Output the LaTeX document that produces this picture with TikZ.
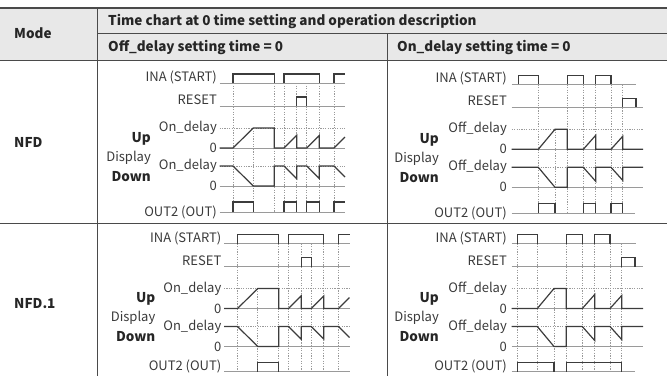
\documentclass[tikz,border=0pt]{standalone}
\usepackage{fontspec}
\setmainfont{Noto Sans CJK KR}
\usepackage{xcolor}
\definecolor{headgray}{HTML}{E8E8E8}
\definecolor{rulegray}{HTML}{4A4A4A}
\definecolor{txtgray}{HTML}{3A3A3A}
\definecolor{basegray}{HTML}{9A9A9A}
\definecolor{siggray}{HTML}{3C3C3C}

\begin{document}
\begin{tikzpicture}[
  x=1pt, y=-1pt,
  lbl/.style={font=\fontsize{13}{15}\selectfont, text=txtgray, inner sep=0pt, anchor=base east},
  lblb/.style={lbl, font=\fontsize{13.5}{15}\selectfont\bfseries, text=black!85},
  headtxt/.style={font=\fontsize{13.5}{16}\selectfont\bfseries, text=black!85, inner sep=0pt, anchor=base west},
  rule/.style={draw=rulegray, line width=0.9pt},
  base/.style={draw=basegray, line width=0.8pt},
  lvl/.style={draw=basegray, line width=0.8pt, dash pattern=on 1.2pt off 1.2pt},
  guide/.style={draw=basegray, line width=0.7pt, dash pattern=on 1.2pt off 1.4pt},
  sig/.style={draw=siggray, line width=1.2pt}
]
  \useasboundingbox (0,0) rectangle (667,376);

  % table
  \fill[headgray] (0,8) rectangle (667,60);
  \draw[rule, line width=2pt] (0,8) -- (667,8);
  \draw[rule] (97,8) -- (97,376);
  \draw[rule] (97,33) -- (667,33);
  \draw[rule] (387,33) -- (387,376);
  \draw[rule] (0,60) -- (667,60);
  \draw[rule] (0,223) -- (667,223);

  \node[headtxt] (mode) at (14,38) {Mode};
  \node[headtxt] (chart) at (108,25.5) {Time chart at 0 time setting and operation description};
  \node[headtxt] (offhead) at (108,51.5) {Off\_delay setting time = 0};
  \node[headtxt] (onhead) at (397,51.5) {On\_delay setting time = 0};
  \node[headtxt] (nfd) at (14,147) {NFD};
  \node[headtxt] (nfdone) at (14,308) {NFD.1};

  % NFD, Off_delay = 0
  \node[lbl] (inaA) at (217,81.5) {INA (START)};
  \node[lbl] (rstA) at (217,104.5) {RESET};
  \node[lbl] (upsetA) at (217,131.5) {On\_delay};
  \node[lbl] (upzeroA) at (217,152.5) {0};
  \node[lbl] (dnsetA) at (217,169.5) {On\_delay};
  \node[lbl] (dnzeroA) at (217,190.5) {0};
  \node[lbl] (outA) at (217,216.5) {OUT2 (OUT)};
  \node[lblb] (upA) at (151,142) {Up};
  \node[lbl] (dispA) at (151,161) {Display};
  \node[lblb] (downA) at (151,181) {Down};
  \draw[base] (219.5,83) -- (345,83);
  \draw[base] (219.5,106) -- (345,106);
  \draw[lvl] (219.5,128) -- (345,128);
  \draw[base] (219.5,148) -- (345,148);
  \draw[lvl] (219.5,166) -- (345,166);
  \draw[base] (219.5,186) -- (345,186);
  \draw[base] (219.5,212) -- (345,212);
  \foreach \x in {233,274.3,284,296.7,306.7,319.3,334}
    \draw[guide] (\x,83) -- (\x,212);
  \draw[guide] (253.3,128) -- (253.3,212);
  \draw[sig] (233,83) |- (274.3,74) -- (274.3,83);
  \draw[sig] (284,83) |- (319.3,74) -- (319.3,83);
  \draw[sig] (334,83) |- (345,74);
  \draw[sig] (296.7,106) |- (306.7,97) -- (306.7,106);
  \draw[sig] (219.5,148) -- (233,148) -- (253.3,128) -- (274.3,128) -- (274.3,148) -- (284,148)
    -- (296.7,135.3) -- (296.7,148) -- (306.7,148) -- (319.3,135.4) -- (319.3,148) -- (334,148) -- (345,137);
  \draw[sig] (219.5,166) -- (233,166) -- (253.3,186) -- (274.3,186) -- (274.3,166) -- (284,166)
    -- (296.7,178.7) -- (296.7,166) -- (306.7,166) -- (319.3,178.6) -- (319.3,166) -- (334,166) -- (345,177);
  \draw[sig] (233,212) |- (253.3,202) -- (253.3,212);
  \draw[sig] (284,212) |- (296.7,202) -- (296.7,212);
  \draw[sig] (306.7,212) |- (319.3,202) -- (319.3,212);
  \draw[sig] (334,212) |- (345,202);

  % NFD.1, Off_delay = 0
  \begin{scope}[shift={(4.5,160.5)}]
    \node[lbl] (inaB) at (217,81.5) {INA (START)};
    \node[lbl] (rstB) at (217,104.5) {RESET};
    \node[lbl] (upsetB) at (217,131.5) {On\_delay};
    \node[lbl] (upzeroB) at (217,152.5) {0};
    \node[lbl] (dnsetB) at (217,169.5) {On\_delay};
    \node[lbl] (dnzeroB) at (217,190.5) {0};
    \node[lbl] (outB) at (217,209.5) {OUT2 (OUT)};
    \node[lblb] (upB) at (151,142) {Up};
    \node[lbl] (dispB) at (151,161) {Display};
    \node[lblb] (downB) at (151,181) {Down};
    \draw[base] (219.5,83) -- (345,83);
    \draw[base] (219.5,106) -- (345,106);
    \draw[lvl] (219.5,128) -- (345,128);
    \draw[base] (219.5,148) -- (345,148);
    \draw[lvl] (219.5,166) -- (345,166);
    \draw[base] (219.5,186) -- (345,186);
    \draw[base] (219.5,211) -- (345,211);
    \foreach \x in {233,274.3,284,296.7,306.7,319.3,334}
      \draw[guide] (\x,83) -- (\x,211);
    \draw[guide] (253.3,128) -- (253.3,211);
    \draw[sig] (233,83) |- (274.3,74) -- (274.3,83);
    \draw[sig] (284,83) |- (319.3,74) -- (319.3,83);
    \draw[sig] (334,83) |- (345,74);
    \draw[sig] (296.7,106) |- (306.7,97) -- (306.7,106);
    \draw[sig] (219.5,148) -- (233,148) -- (253.3,128) -- (274.3,128) -- (274.3,148) -- (284,148)
      -- (296.7,135.3) -- (296.7,148) -- (306.7,148) -- (319.3,135.4) -- (319.3,148) -- (334,148) -- (345,137);
    \draw[sig] (219.5,166) -- (233,166) -- (253.3,186) -- (274.3,186) -- (274.3,166) -- (284,166)
      -- (296.7,178.7) -- (296.7,166) -- (306.7,166) -- (319.3,178.6) -- (319.3,166) -- (334,166) -- (345,177);
    \draw[sig] (253.3,211) |- (274.3,202) -- (274.3,211);
  \end{scope}

  % NFD, On_delay = 0
  \begin{scope}[shift={(0,1.3)}]
    \node[lbl] (inaC) at (507,81.5) {INA (START)};
    \node[lbl] (rstC) at (507,104.5) {RESET};
    \node[lbl] (upsetC) at (507,131.5) {Off\_delay};
    \node[lbl] (upzeroC) at (507,152.5) {0};
    \node[lbl] (dnsetC) at (507,169.5) {Off\_delay};
    \node[lbl] (dnzeroC) at (507,190.5) {0};
    \node[lbl] (outC) at (507,216.5) {OUT2 (OUT)};
    \node[lblb] (upC) at (439,142) {Up};
    \node[lbl] (dispC) at (439,161) {Display};
    \node[lblb] (downC) at (439,181) {Down};
    \draw[base] (511.7,83) -- (636,83);
    \draw[base] (511.7,106) -- (643,106);
    \draw[lvl] (511.7,128) -- (643,128);
    \draw[base] (511.7,148) -- (643,148);
    \draw[lvl] (511.7,166) -- (643,166);
    \draw[base] (511.7,186) -- (643,186);
    \draw[base] (511.7,212) -- (635,212);
    \foreach \x in {538.3,567.3,583.3,595.7,611,622.7}
      \draw[guide] (\x,83) -- (\x,212);
    \draw[guide] (555,128) -- (555,212);
    \draw[sig] (518.3,83) |- (538.3,74) -- (538.3,83);
    \draw[sig] (567.3,83) |- (583.3,74) -- (583.3,83);
    \draw[sig] (595.7,83) |- (611,74) -- (611,83);
    \draw[sig] (622.7,106) |- (636,97) -- (636,106);
    \draw[sig] (511.7,148) -- (538.3,148) -- (555,128) -- (567.3,128) -- (567.3,148) -- (583.3,148)
      -- (595.7,134) -- (595.7,148) -- (611,148) -- (622.7,135) -- (622.7,148) -- (643,148);
    \draw[sig] (511.7,166) -- (538.3,166) -- (555,186) -- (567.3,186) -- (567.3,166) -- (583.3,166)
      -- (595.7,180) -- (595.7,166) -- (611,166) -- (622.7,179) -- (622.7,166) -- (643,166);
    \draw[sig] (538.3,212) |- (555,202) -- (555,212);
    \draw[sig] (583.3,212) |- (595.7,202) -- (595.7,212);
    \draw[sig] (611,212) |- (622.7,202) -- (622.7,212);
  \end{scope}

  % NFD.1, On_delay = 0
  \begin{scope}[shift={(-1,160.5)}]
    \node[lbl] (inaD) at (508,81.5) {INA (START)};
    \node[lbl] (rstD) at (508,104.5) {RESET};
    \node[lbl] (upsetD) at (508,131.5) {Off\_delay};
    \node[lbl] (upzeroD) at (508,152.5) {0};
    \node[lbl] (dnsetD) at (508,169.5) {Off\_delay};
    \node[lbl] (dnzeroD) at (508,190.5) {0};
    \node[lbl] (outD) at (508,209.5) {OUT2 (OUT)};
    \node[lblb] (upD) at (440,142) {Up};
    \node[lbl] (dispD) at (440,161) {Display};
    \node[lblb] (downD) at (440,181) {Down};
    \draw[base] (512.7,83) -- (637,83);
    \draw[base] (512.7,106) -- (644,106);
    \draw[lvl] (512.7,128) -- (644,128);
    \draw[base] (512.7,148) -- (644,148);
    \draw[lvl] (512.7,166) -- (644,166);
    \draw[base] (512.7,186) -- (644,186);
    \draw[base] (512.7,211) -- (636,211);
    \foreach \x in {518.3,538.3,567.3,583.3,595.7,611,622.7}
      \draw[guide] (\x,83) -- (\x,211);
    \draw[guide] (555,128) -- (555,211);
    \draw[sig] (518.3,83) |- (538.3,74) -- (538.3,83);
    \draw[sig] (567.3,83) |- (583.3,74) -- (583.3,83);
    \draw[sig] (595.7,83) |- (611,74) -- (611,83);
    \draw[sig] (622.7,106) |- (636,97) -- (636,106);
    \draw[sig] (512.7,148) -- (538.3,148) -- (555,128) -- (567.3,128) -- (567.3,148) -- (583.3,148)
      -- (595.7,134) -- (595.7,148) -- (611,148) -- (622.7,135) -- (622.7,148) -- (644,148);
    \draw[sig] (512.7,166) -- (538.3,166) -- (555,186) -- (567.3,186) -- (567.3,166) -- (583.3,166)
      -- (595.7,180) -- (595.7,166) -- (611,166) -- (622.7,179) -- (622.7,166) -- (644,166);
    \draw[sig] (518.3,211) |- (555,202) -- (555,211);
    \draw[sig] (567.3,211) |- (622.7,202) -- (622.7,211);
  \end{scope}
\end{tikzpicture}
\end{document}
